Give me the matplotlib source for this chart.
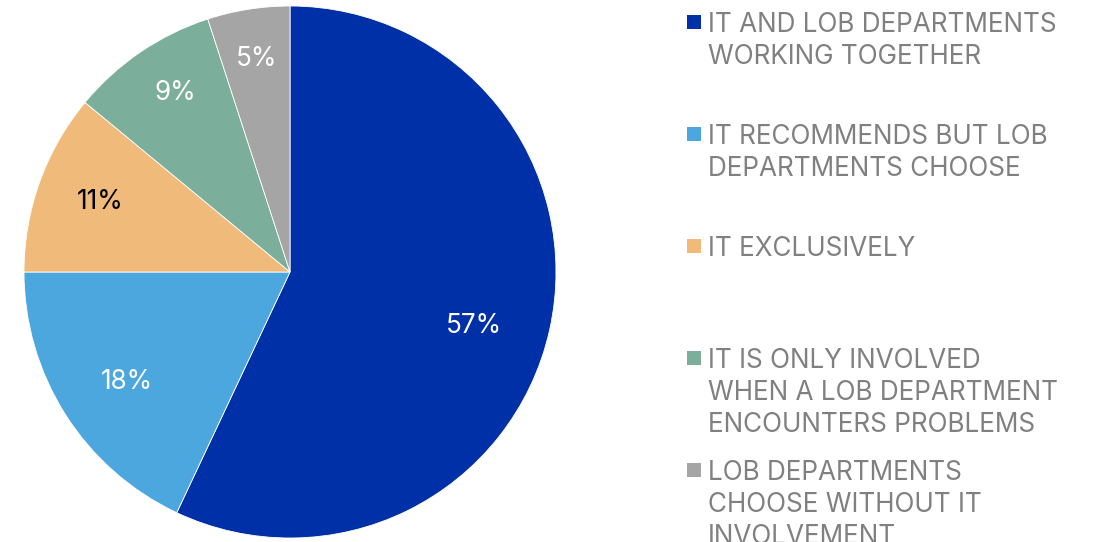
import matplotlib
matplotlib.use("Agg")
import matplotlib.pyplot as plt
import numpy as np
from matplotlib.patches import Rectangle

categories = [
    "IT AND LOB DEPARTMENTS\nWORKING TOGETHER",
    "IT RECOMMENDS BUT LOB\nDEPARTMENTS CHOOSE",
    "IT EXCLUSIVELY",
    "IT IS ONLY INVOLVED\nWHEN A LOB DEPARTMENT\nENCOUNTERS PROBLEMS",
    "LOB DEPARTMENTS\nCHOOSE WITHOUT IT\nINVOLVEMENT",
]
shares = [57, 18, 11, 9, 5]
colors = ["#0030A8", "#4DA7DF", "#F0BA7A", "#7BAF9B", "#A5A5A5"]
label_colors = ["white", "white", "black", "white", "white"]
# label placement inside each wedge: radial distance and angular nudge (deg)
label_radius = [0.72, 0.74, 0.76, 0.80, 0.81]
label_nudge = [-3.8, 1.4, -0.4, -1.7, 0.0]

plt.rcParams["font.family"] = ["Inter", "DejaVu Sans"]

W, H = 1094, 542
fig = plt.figure(figsize=(W / 100, H / 100), dpi=100)
fig.patch.set_facecolor("white")

cx, cy, R = 290, 272, 266
ax = fig.add_axes([(cx - R) / W, (H - cy - R) / H, 2 * R / W, 2 * R / H])
wedges, _ = ax.pie(shares, colors=colors, startangle=90, counterclock=False,
                   radius=1.0, wedgeprops=dict(linewidth=0.6, edgecolor="white"))
ax.set_xlim(-1, 1)
ax.set_ylim(-1, 1)
ax.set_aspect("equal")
ax.axis("off")

for w, val, col, r, dn in zip(wedges, shares, label_colors, label_radius, label_nudge):
    mid = np.deg2rad((w.theta1 + w.theta2) / 2 + dn)
    ax.text(r * np.cos(mid), r * np.sin(mid), f"{val}%", ha="center", va="center",
            fontsize=18.8, color=col)

# legend drawn as fixed slots on the right
slot_top = 22
slot_step = 112
line_step = 32
for i, (lab, col) in enumerate(zip(categories, colors)):
    y = slot_top + i * slot_step
    fig.patches.append(Rectangle((687 / W, 1 - (y + 7) / H), 14 / W, 14 / H,
                                 transform=fig.transFigure, facecolor=col,
                                 edgecolor="none"))
    for j, line in enumerate(lab.split("\n")):
        fig.text(708 / W, 1 - (y + j * line_step) / H, line, ha="left",
                 va="center_baseline", fontsize=18.8, color="#808080")

fig.savefig("out.png", dpi=100)
